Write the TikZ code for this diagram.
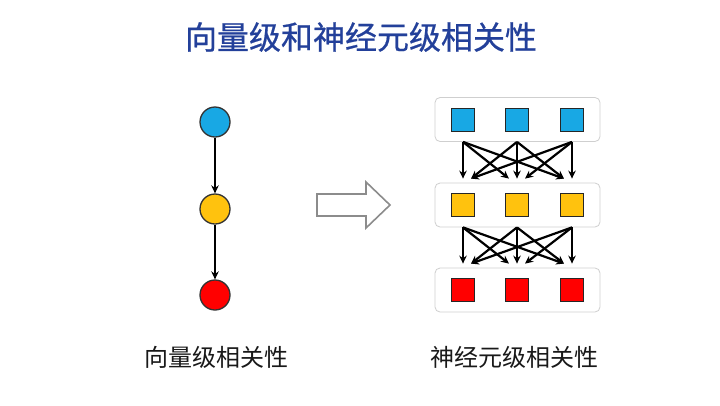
\documentclass[tikz,border=0pt]{standalone}
\usepackage{fontspec}
\newfontfamily\cjk{Noto Sans CJK SC}
\newfontfamily\cjktitle[FakeBold=0.6]{Noto Sans CJK SC}
\usetikzlibrary{arrows.meta}
\definecolor{titleblue}{HTML}{23409A}
\definecolor{cblue}{HTML}{18A8E4}
\definecolor{cyellow}{HTML}{FFC20E}
\definecolor{cred}{HTML}{FF0000}
\definecolor{boxgray}{HTML}{CFCFCF}
\definecolor{arrgray}{HTML}{8C8C8C}
\tikzset{
  circ/.style={circle, draw=black!80, line width=1.3pt, minimum size=30pt, inner sep=0pt},
  sq/.style={rectangle, draw=black!85, line width=1.5pt, minimum size=23pt, inner sep=0pt},
  layerbox/.style={rectangle, rounded corners=5pt, draw=boxgray, line width=0.8pt, minimum width=165pt, minimum height=44pt, inner sep=0pt},
  conn/.style={line width=2.2pt, -{Stealth[length=8pt,width=7.5pt]}},
  lbl/.style={font=\cjk\fontsize{24}{28}\selectfont, text=black!90},
}
\begin{document}
\begin{tikzpicture}[x=1pt,y=-1pt]
\useasboundingbox[fill=white] (0,0) rectangle (720,405);
\node[font=\cjktitle\fontsize{32}{36}\selectfont, text=titleblue] (title) at (361,37) {向量级和神经元级相关性};
% left chain
\node[circ, fill=cblue] (c1) at (215,122) {};
\node[circ, fill=cyellow] (c2) at (215,209) {};
\node[circ, fill=cred] (c3) at (215,295) {};
\draw[conn] (c1) -- (c2);
\draw[conn] (c2) -- (c3);
% hollow arrow
\draw[arrgray, line width=1.6pt, line join=miter] (317,194) -- (366,194) -- (366,182) -- (390,205) -- (366,228) -- (366,216) -- (317,216) -- cycle;
% layer boxes
\node[layerbox] (b1) at (517.5,119.5) {};
\node[layerbox] (b2) at (517.5,205) {};
\node[layerbox] (b3) at (517.5,290) {};
\foreach \x [count=\i] in {463,517,572}{
  \node[sq, fill=cblue] (s1\i) at (\x,120) {};
  \node[sq, fill=cyellow] (s2\i) at (\x,205) {};
  \node[sq, fill=cred] (s3\i) at (\x,290) {};
}
% connections between layers
\foreach \u/\l in {1/2,2/3}{
  \foreach \i in {1,2,3}{
    \coordinate (o\u\i) at (b\u.south -| s\u\i);
    \foreach \j in {1,2,3}{
      \pgfmathsetmacro{\off}{(\j<\i) ? 8 : ((\j>\i) ? -8 : 0)}
      \coordinate (t\u\i\j) at ([xshift=\off pt, yshift=4pt] b\l.north -| s\l\j);
      \draw[conn] (o\u\i) -- (t\u\i\j);
    }
  }
}
% labels
\node[lbl] (l1) at (216,357) {向量级相关性};
\node[lbl] (l2) at (514,357) {神经元级相关性};
\end{tikzpicture}
\end{document}
